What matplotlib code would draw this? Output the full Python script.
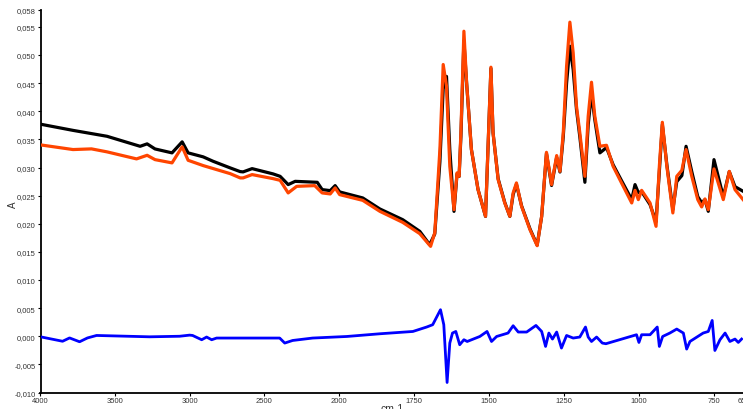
import numpy as np
import matplotlib
matplotlib.use("Agg")
import matplotlib.pyplot as plt

# ---- data ----
black_wn = [4000, 3782, 3554, 3332, 3285, 3232, 3118, 3050, 3010, 2909, 2842, 2728, 2661, 2641,
            2581, 2440, 2393, 2339, 2292, 2144, 2111, 2057, 2024, 1997, 1920, 1863, 1787, 1730,
            1697, 1680, 1663, 1652, 1641, 1630, 1616, 1606, 1599, 1593, 1583, 1574, 1558, 1536,
            1511, 1503, 1493, 1486, 1469, 1447, 1430, 1419, 1408, 1391, 1363, 1339, 1324, 1308,
            1291, 1274, 1263, 1252, 1241, 1230, 1219, 1208, 1197, 1180, 1169, 1158, 1147, 1130,
            1108, 1086, 1058, 1024, 1013, 1002, 991, 963, 943, 932, 922, 907, 887, 874, 857, 843,
            824, 804, 791, 780, 769, 750, 719, 699, 680, 653]
black_abs = [0.0377, 0.0366, 0.03555, 0.03377, 0.0342, 0.0333, 0.0326, 0.03456, 0.0326, 0.03189,
             0.0311, 0.02993, 0.02927, 0.02922, 0.0298, 0.02886, 0.02843, 0.02696, 0.02754,
             0.02737, 0.02607, 0.02589, 0.02678, 0.02566, 0.02459, 0.02263, 0.02073, 0.01865,
             0.01628, 0.0182, 0.0310, 0.0440, 0.0462, 0.0332, 0.0222, 0.0288, 0.0284, 0.0355,
             0.0525, 0.0450, 0.0332, 0.0261, 0.0213, 0.0330, 0.0476, 0.0362, 0.0280, 0.0238,
             0.0213, 0.0252, 0.0270, 0.0232, 0.0191, 0.0162, 0.0213, 0.0325, 0.0268, 0.0318,
             0.0292, 0.0355, 0.0450, 0.05157, 0.0474, 0.0403, 0.0355, 0.02737, 0.0376, 0.04327,
             0.0385, 0.0326, 0.03354, 0.0305, 0.02767, 0.02429, 0.02696, 0.02553, 0.02571,
             0.0234, 0.02037, 0.02927, 0.03763, 0.0305, 0.02251, 0.02749, 0.02856, 0.03377,
             0.02927, 0.02482, 0.02375, 0.02429, 0.02221, 0.0314, 0.02482, 0.02927, 0.0266,
             0.02577]

orange_wn = [4000, 3782, 3658, 3554, 3356, 3285, 3232, 3118, 3050, 3010, 2909, 2728, 2661, 2641,
             2581, 2440, 2393, 2339, 2282, 2161, 2111, 2057, 2024, 1997, 1920, 1863, 1787, 1730,
             1694, 1680, 1663, 1652, 1641, 1630, 1616, 1606, 1599, 1593, 1583, 1574, 1558, 1536,
             1511, 1503, 1493, 1486, 1469, 1447, 1430, 1419, 1408, 1391, 1363, 1339, 1324, 1308,
             1291, 1274, 1263, 1252, 1241, 1230, 1219, 1208, 1197, 1180, 1169, 1158, 1147, 1130,
             1108, 1086, 1058, 1024, 1013, 1002, 991, 963, 943, 932, 922, 907, 887, 874, 857, 843,
             824, 804, 791, 780, 769, 750, 719, 699, 680, 653]
orange_abs = [0.03402, 0.03319, 0.03331, 0.03278, 0.03153, 0.03217, 0.0314, 0.03082, 0.03367,
              0.03128, 0.03034, 0.02891, 0.02815, 0.02815, 0.02874, 0.02802, 0.02772, 0.02548,
              0.02665, 0.02678, 0.02548, 0.0253, 0.02637, 0.02518, 0.02416, 0.02221, 0.02025,
              0.01824, 0.01598, 0.01842, 0.03319, 0.04831, 0.04445, 0.03021, 0.02251, 0.02904,
              0.02843, 0.03621, 0.05423, 0.04505, 0.03319, 0.02607, 0.02132, 0.03319, 0.04783,
              0.03621, 0.02785, 0.0237, 0.02132, 0.02548, 0.02726, 0.0231, 0.01895, 0.0161,
              0.02132, 0.0327, 0.02696, 0.03212, 0.02932, 0.03621, 0.04801, 0.05584, 0.05039,
              0.04089, 0.03621, 0.02843, 0.03911, 0.04516, 0.03911, 0.03377, 0.03395, 0.03021,
              0.02726, 0.0237, 0.02594, 0.02429, 0.02594, 0.0237, 0.01954, 0.03021, 0.03804,
              0.03021, 0.02192, 0.02843, 0.0295, 0.03319, 0.02843, 0.02429, 0.02299, 0.02441,
              0.02251, 0.02975, 0.02429, 0.02932, 0.02607, 0.02429]

blue_wn = [4000, 3852, 3805, 3738, 3685, 3624, 3268, 3067, 3000, 2980, 2919, 2886, 2852, 2819,
           2396, 2362, 2309, 2175, 1973, 1863, 1753, 1707, 1687, 1661, 1650, 1639, 1630, 1621,
           1610, 1597, 1583, 1572, 1530, 1506, 1491, 1474, 1436, 1419, 1402, 1374, 1343, 1324,
           1311, 1300, 1288, 1274, 1258, 1241, 1219, 1197, 1178, 1169, 1158, 1141, 1122, 1110,
           1008, 1000, 991, 963, 939, 932, 921, 897, 874, 852, 841, 830, 786, 769, 756, 747,
           730, 713, 697, 680, 669, 658]
blue_abs = [-0.0001, -0.00089, -0.0003, -0.00098, -0.0003, 0.00014, -0.0001, 0.0, 0.0002,
            0.00014, -0.00062, -0.00014, -0.00062, -0.00032, -0.00032, -0.00121, -0.00075,
            -0.00032, -0.00004, 0.00044, 0.00085, 0.00164, 0.00205, 0.00472, 0.00205, -0.00822,
            -0.00121, 0.00057, 0.00085, -0.00151, -0.00062, -0.00093, -0.00004, 0.00085,
            -0.00093, -0.00004, 0.00057, 0.00187, 0.00075, 0.00075, 0.00192, 0.00085, -0.00181,
            0.00057, -0.0005, 0.00075, -0.0021, 0.00014, -0.00032, -0.00014, 0.00164, -0.00014,
            -0.00093, -0.00014, -0.00121, -0.00133, 0.00027, -0.0011, 0.00027, 0.00027, 0.00164,
            -0.00181, -0.00004, 0.00057, 0.00128, 0.00057, -0.00228, -0.00093, 0.00057, 0.00085,
            0.00281, -0.00253, -0.00062, 0.00057, -0.00093, -0.0005, -0.0011, -0.0005]

x_ticks = [4000, 3500, 3000, 2500, 2000, 1750, 1500, 1250, 1000, 750, 650]
y_ticks = [-0.010, -0.005, 0.000, 0.005, 0.010, 0.015, 0.020, 0.025, 0.030, 0.035, 0.040,
           0.045, 0.050, 0.055, 0.058]

plt.rcParams['font.family'] = ['Liberation Sans', 'DejaVu Sans']

fig = plt.figure(figsize=(7.43, 4.10), dpi=100)
ax = fig.add_axes([40.5 / 743, (410 - 393.5) / 410, (744 - 40.5) / 743, (393.5 - 11) / 410])

# FTIR display: region above 2000 cm-1 compressed by 2x
K = 0.4967
def fwd(x):
    x = np.asarray(x, dtype=float)
    return np.where(x > 2000, 2000 + (x - 2000) * K, x)
def inv(t):
    t = np.asarray(t, dtype=float)
    return np.where(t > 2000, 2000 + (t - 2000) / K, t)
ax.set_xscale('function', functions=(fwd, inv))

ax.plot(black_wn, black_abs, color='black', lw=2.3, solid_joinstyle='round', zorder=2)
ax.plot(orange_wn, orange_abs, color='#FF4500', lw=2.3, solid_joinstyle='round', zorder=3)
ax.plot(blue_wn, blue_abs, color='#0000FF', lw=2.0, solid_joinstyle='round', zorder=3)

ax.set_xlim(4000, 650)
ax.set_ylim(-0.010, 0.058)
ax.set_xticks(x_ticks)
ax.set_xticklabels([str(t) for t in x_ticks])
ax.set_yticks(y_ticks)
ax.set_yticklabels([f"{t:.3f}".replace('.', ',') for t in y_ticks])
ax.minorticks_off()

for s in ['top', 'right']:
    ax.spines[s].set_visible(False)
for s in ['left', 'bottom']:
    ax.spines[s].set_linewidth(1.3)
    ax.spines[s].set_color('black')
ax.tick_params(axis='both', direction='out', length=2.5, width=0.8, labelsize=5.5,
               labelcolor='#333333', pad=1)

fig.text(13 / 743, 1 - 205 / 410, 'A', rotation=90, ha='center', va='center', fontsize=7,
         color='#333333')
fig.text(392 / 743, 1 - 409 / 410, 'cm-1', ha='center', va='center', fontsize=7.5,
         color='#333333')

fig.savefig('out.png', dpi=100)
